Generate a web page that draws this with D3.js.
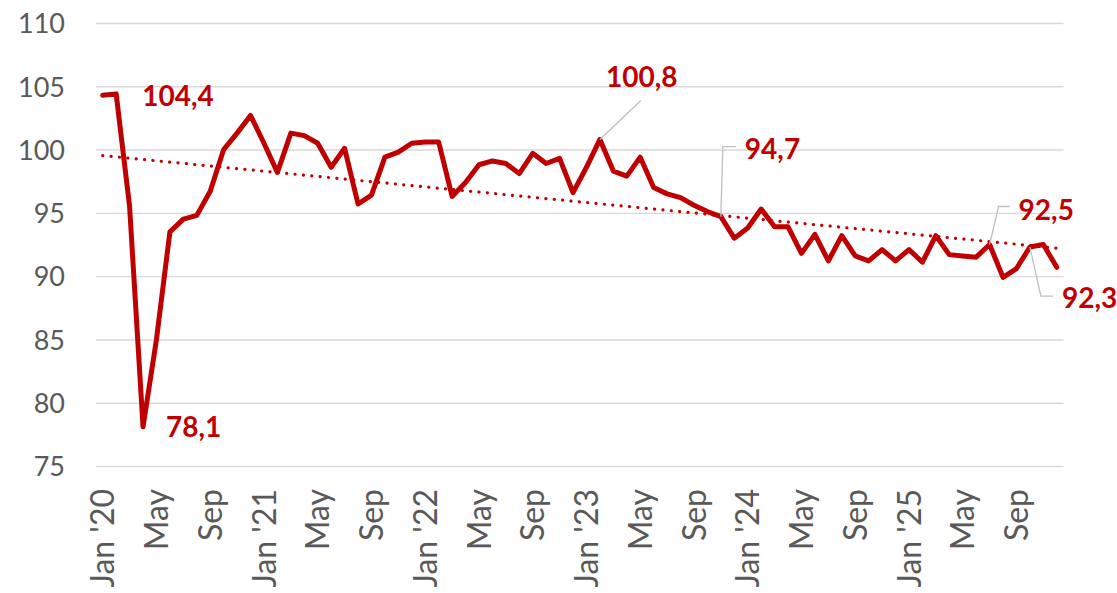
<!DOCTYPE html>
<html>
<head>
<meta charset="utf-8">
<script src="https://cdn.jsdelivr.net/npm/d3@7"></script>
<style>
  html, body { margin: 0; padding: 0; background: #fff; }
  svg { display: block; }
</style>
</head>
<body>
<svg id="chart" width="1117" height="593"></svg>
<script>
// ---------------- DATA ----------------
const years = [2020, 2021, 2022, 2023, 2024, 2025];
const monthNames = ["Jan","Feb","Mar","Apr","May","Jun","Jul","Aug","Sep","Oct","Nov","Dec"];
const values = [
  104.3, 104.4, 95.5, 78.1, 85.0, 93.5, 94.5, 94.8, 96.7, 100.0, 101.3, 102.7,
  100.5, 98.2, 101.3, 101.1, 100.5, 98.6, 100.1, 95.7, 96.4, 99.4, 99.8, 100.5,
  100.6, 100.6, 96.3, 97.4, 98.8, 99.1, 98.9, 98.1, 99.7, 98.9, 99.3, 96.6,
  98.6, 100.8, 98.3, 97.9, 99.4, 97.0, 96.5, 96.2, 95.6, 95.1, 94.7, 93.0,
  93.8, 95.3, 93.9, 93.9, 91.8, 93.3, 91.2, 93.2, 91.6, 91.2, 92.1, 91.2,
  92.1, 91.1, 93.2, 91.7, 91.6, 91.5, 92.5, 89.9, 90.6, 92.3, 92.5, 90.7
];
const yTicks = [75, 80, 85, 90, 95, 100, 105, 110];
const labelEvery = 4;
const annotIndex = [1, 3, 37, 46, 66, 69];
const annotText = ["104,4", "78,1", "100,8", "94,7", "92,5", "92,3"];

// ---------------- LAYOUT ----------------
const plotL = 96, plotR = 1063.5, plotT = 23, plotB = 466;
const RED = "#C00000", GREY_TXT = "#595959", GRID = "#D9D9D9", LEADER = "#BFBFBF";

const months = [];
years.forEach(yr => monthNames.forEach((m, k) => {
  months.push(k === 0 ? `Jan '${String(yr).slice(2)}` : m);
}));
const idx = values.map((_, i) => i);

const svg = d3.select("#chart");
const x = d3.scaleBand().domain(idx).range([plotL, plotR]).padding(0);
const cx = i => x(i) + x.bandwidth() / 2;
const y = d3.scaleLinear().domain([75, 110]).range([plotB, plotT]);

// gridlines + y labels
const yAxis = d3.axisLeft(y).tickValues(yTicks).tickSize(-(plotR - plotL)).tickPadding(31).tickFormat(d3.format("d"));
const gy = svg.append("g").attr("transform", `translate(${plotL},0)`).call(yAxis);
gy.select(".domain").remove();
gy.selectAll(".tick line").attr("stroke", GRID).attr("stroke-width", 1.4);
gy.selectAll(".tick text")
  .attr("fill", GREY_TXT)
  .style("font-family", "Lato, 'Open Sans', sans-serif")
  .style("font-size", "27px")
  .attr("dy", "0.36em");

// x labels
const xAxis = d3.axisBottom(x)
  .tickValues(idx.filter(i => i % labelEvery === 0))
  .tickSize(0)
  .tickFormat(i => months[i]);
const gx = svg.append("g").attr("transform", `translate(0,${plotB})`).call(xAxis);
gx.select(".domain").remove();
gx.selectAll(".tick text")
  .attr("fill", GREY_TXT)
  .style("font-family", "Lato, 'Open Sans', sans-serif")
  .style("font-size", "32px")
  .attr("text-anchor", "end")
  .attr("transform", "translate(0,23) rotate(-90)")
  .attr("x", 0).attr("y", 0)
  .attr("dy", "0.36em");

// trend line (linear least squares of the series)
const n = values.length;
const mx = d3.mean(idx), my = d3.mean(values);
const slope = d3.sum(idx, i => (i - mx) * (values[i] - my)) / d3.sum(idx, i => (i - mx) ** 2);
const intercept = my - slope * mx;
const trend = [0, n - 1].map(i => [cx(i), y(intercept + slope * i)]);
svg.append("path")
  .attr("d", d3.line()(trend))
  .attr("fill", "none")
  .attr("stroke", RED)
  .attr("stroke-width", 3.2)
  .attr("stroke-linecap", "round")
  .attr("stroke-dasharray", "0.1 8.3");

// main line
svg.append("path")
  .datum(values)
  .attr("d", d3.line().x((d, i) => cx(i)).y(d => y(d)))
  .attr("fill", "none")
  .attr("stroke", RED)
  .attr("stroke-width", 5)
  .attr("stroke-linejoin", "round")
  .attr("stroke-linecap", "round");

// annotations: leader points relative to the data point, text offset
const annotLayout = [
  { leader: null, tx: 26, ty: 12 },
  { leader: null, tx: 23, ty: 10 },
  { leader: [[0, 0], [41, -39]], tx: 6, ty: -52 },
  { leader: [[0, 0], [2, -70], [15, -70]], tx: 24, ty: -58 },
  { leader: [[0, 0], [9, -38], [20, -38]], tx: 29, ty: -25 },
  { leader: [[0, 0], [11, 49], [23, 49]], tx: 32, ty: 61 }
];
annotIndex.forEach((i, k) => {
  const px = cx(i), py = y(values[i]);
  const L = annotLayout[k];
  if (L.leader) {
    svg.append("path")
      .attr("d", d3.line()(L.leader.map(p => [px + p[0], py + p[1]])))
      .attr("fill", "none")
      .attr("stroke", LEADER)
      .attr("stroke-width", 1.3);
  }
  svg.append("text")
    .attr("x", px + L.tx)
    .attr("y", py + L.ty)
    .attr("fill", RED)
    .style("font-family", "Lato, 'Open Sans', sans-serif")
    .style("font-weight", "bold")
    .style("font-size", "28px")
    .text(annotText[k]);
});
</script>
</body>
</html>
